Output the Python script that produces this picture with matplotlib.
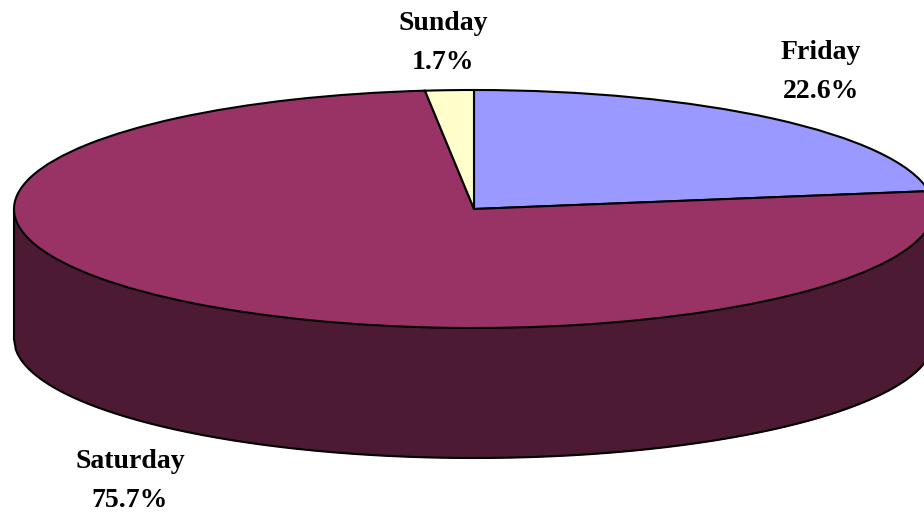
import numpy as np
import matplotlib.pyplot as plt

days = ['Friday', 'Saturday', 'Sunday']
shares = [22.6, 75.7, 1.7]
top_colors = ['#9999FF', '#993366', '#FFFFCC']
side_color = '#4D1A33'

W, H = 924, 512
# ellipse of the pie top, in pixels
cx, cy, rx, ry = 474.0, 209.0, 460.0, 119.0
depth = 130.0 / ry

plt.rcParams['font.family'] = ['Liberation Serif', 'DejaVu Serif']

fig = plt.figure(figsize=(W / 100, H / 100), dpi=100)
ax = fig.add_axes([0, 0, 1, 1])

# side wall, only Saturday shows from the front
xs = np.linspace(-1, 1, 500)
bottom = -depth - np.sqrt(1 - xs ** 2)
ax.fill_between(xs, 0, bottom, color=side_color, lw=0, zorder=1)
ax.plot(xs, bottom, color='black', lw=1.5, zorder=2)
ax.plot([-1, -1], [0, -depth], color='black', lw=1.5, zorder=2)

# top of the pie
ax.pie(shares, colors=top_colors, startangle=90, counterclock=False, radius=1,
       center=(0, 0), wedgeprops={'edgecolor': 'black', 'linewidth': 1.5, 'zorder': 3})

ax.set_aspect('auto')
ax.set_xlim(-cx / rx, (W - cx) / rx)
ax.set_ylim((cy - H) / ry, cy / ry)
ax.axis('off')

label_pos = [(821, 72), (130, 481), (443, 43)]
for day, share, (px, py) in zip(days, shares, label_pos):
    ax.text((px - cx) / rx, (cy - py) / ry, '%s\n%.1f%%' % (day, share), ha='center', va='center',
            fontsize=20, fontweight='bold', color='black', linespacing=1.7, zorder=5)

fig.savefig('out.png', dpi=100)
